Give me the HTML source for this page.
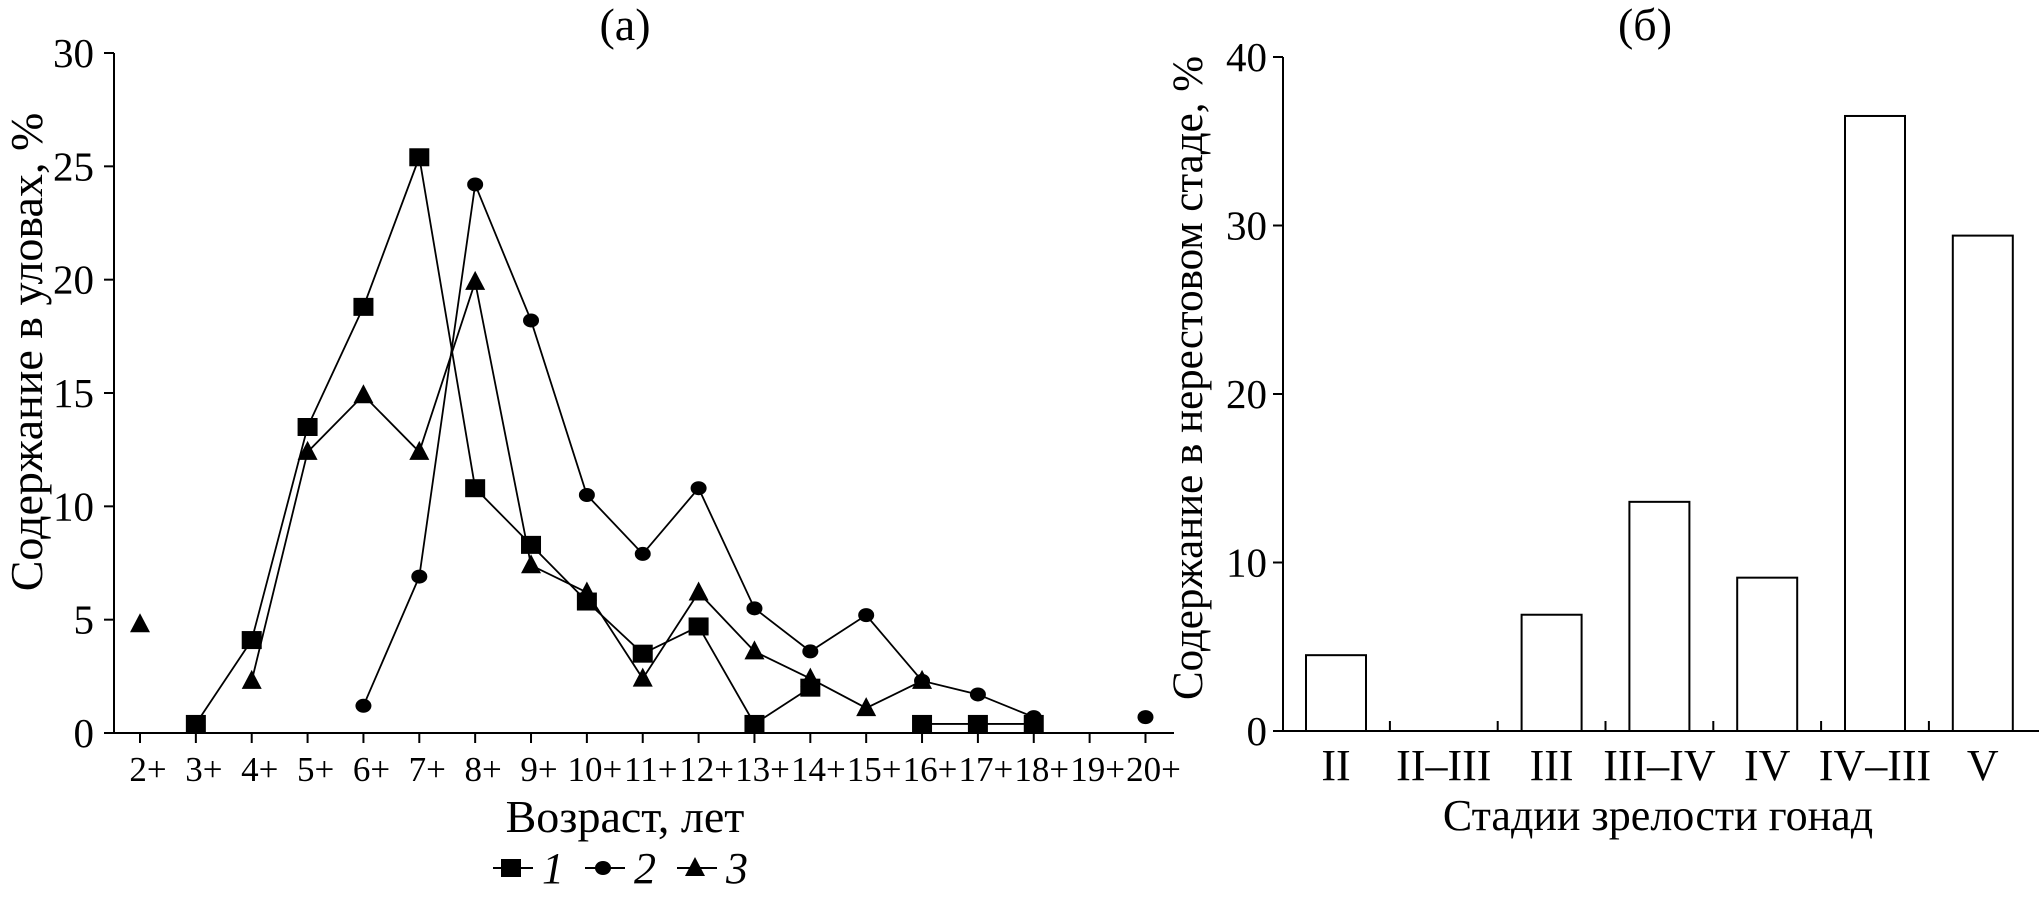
<!DOCTYPE html>
<html><head><meta charset="utf-8"><style>
html,body{margin:0;padding:0;background:#fff;}
svg{display:block;font-family:"Liberation Serif",serif;}
</style></head><body>
<svg id="c" width="2042" height="898" viewBox="0 0 2042 898"></svg>
<script>
const ageLabels=["2+","3+","4+","5+","6+","7+","8+","9+","10+","11+","12+","13+","14+","15+","16+","17+","18+","19+","20+"];
const series1=[null,0.4,4.1,13.5,18.8,25.4,10.8,8.3,5.8,3.5,4.7,0.4,2.0,null,0.4,0.4,0.4,null,null];
const series2=[null,null,null,null,1.2,6.9,24.2,18.2,10.5,7.9,10.8,5.5,3.6,5.2,2.3,1.7,0.7,null,0.7];
const series3=[4.8,null,2.3,12.4,14.9,12.4,19.9,7.4,6.2,2.4,6.2,3.6,2.4,1.1,2.3,null,null,null,null];
const yTicksA=[0,5,10,15,20,25,30];
const stages=["II","II–III","III","III–IV","IV","IV–III","V"];
const stageValues=[4.5,0,6.9,13.6,9.1,36.5,29.4];
const yTicksB=[0,10,20,30,40];

const svg=document.getElementById('c');
const NS="http://www.w3.org/2000/svg";
function mk(t,a,p){const e=document.createElementNS(NS,t);for(const k in a)e.setAttribute(k,a[k]);(p||svg).appendChild(e);return e;}
function txt(s,x,y,size,extra){const e=mk('text',Object.assign({x:x,y:y,'font-size':size,'text-anchor':'middle',fill:'#000'},extra||{}));e.textContent=s;return e;}

// ---- Chart A ----
const ax0=114, ax1=1174, ay0=733, ay1=53;
const xA=i=>140+i*55.86;
const yA=v=>ay0-(v/30)*(ay0-ay1);
const gA=mk('g',{});


let e=mk('line',{x1:ax0,y1:ay0,x2:ax1,y2:ay0,stroke:'#000','stroke-width':2},gA);

e=mk('line',{x1:ax0,y1:ay0,x2:ax0,y2:ay1,stroke:'#000','stroke-width':2},gA);

yTicksA.forEach(v=>{
  mk('line',{x1:ax0,y1:yA(v),x2:ax0-10,y2:yA(v),stroke:'#000','stroke-width':2},gA);
  const t=txt(String(v),ax0-20,yA(v)+14,41,{'text-anchor':'end'});
  
});
ageLabels.forEach((l,i)=>{
  mk('line',{x1:xA(i),y1:ay0,x2:xA(i),y2:ay0+10,stroke:'#000','stroke-width':2},gA);
  const t=txt(l,xA(i)+8,781,35);
  
});
function drawSeries(data,marker,name){
  const g=mk('g',{},gA);
  
  
  let seg=[];
  const flush=()=>{if(seg.length>1)mk('polyline',{points:seg.join(' '),fill:'none',stroke:'#000','stroke-width':1.8},g);seg=[];};
  data.forEach((v,i)=>{if(v===null){flush();return;}seg.push(xA(i)+','+yA(v));});
  flush();
  data.forEach((v,i)=>{
    if(v===null)return;
    const x=xA(i),y=yA(v);let m;
    if(marker==='square')m=mk('rect',{x:x-10,y:y-9,width:20,height:18,fill:'#000'},g);
    else if(marker==='circle')m=mk('ellipse',{cx:x,cy:y,rx:8,ry:7,fill:'#000'},g);
    else m=mk('polygon',{points:`${x},${y-11} ${x-10},${y+8} ${x+10},${y+8}`,fill:'#000'},g);
    
    
  });
}
drawSeries(series1,'square','series-1');
drawSeries(series2,'circle','series-2');
drawSeries(series3,'triangle','series-3');
e=txt('(а)',625,40,46);
e=txt('Возраст, лет',625,832,46);
e=txt('Содержание в уловах, %',0,0,46,{transform:'translate(42,352) rotate(-90)'});

// legend
const lg=mk('g',{});

[['square','1',493],['circle','2',585],['triangle','3',677]].forEach(([m,l,x])=>{
  const y=868;
  mk('line',{x1:x,y1:y,x2:x+40,y2:y,stroke:'#000','stroke-width':2},lg);
  const cx=x+18;
  if(m==='square')mk('rect',{x:cx-10,y:y-9,width:20,height:18,fill:'#000'},lg);
  else if(m==='circle')mk('ellipse',{cx:cx,cy:y,rx:8,ry:7,fill:'#000'},lg);
  else mk('polygon',{points:`${cx},${y-11} ${cx-10},${y+8} ${cx+10},${y+8}`,fill:'#000'},lg);
  const t=txt(l,x+60,y+15,44,{'font-style':'italic'});
  
});

// ---- Chart B ----
const bx0=1283, bx1=2039, by0=731, by1=57;
const xB=i=>1336+i*107.8;
const yB=v=>by0-(v/40)*(by0-by1);
const gB=mk('g',{});

stageValues.forEach((v,i)=>{
  if(v<=0)return;
  const r=mk('rect',{x:xB(i)-30,y:yB(v),width:60,height:by0-yB(v),fill:'#fff',stroke:'#000','stroke-width':2},gB);
  
});
e=mk('line',{x1:bx0,y1:by0,x2:bx1,y2:by0,stroke:'#000','stroke-width':2},gB);

e=mk('line',{x1:bx0,y1:by0,x2:bx0,y2:by1,stroke:'#000','stroke-width':2},gB);

yTicksB.forEach(v=>{
  mk('line',{x1:bx0,y1:yB(v),x2:bx0-10,y2:yB(v),stroke:'#000','stroke-width':2},gB);
  const t=txt(String(v),bx0-16,yB(v)+14,41,{'text-anchor':'end'});
  
});
stages.forEach((s,i)=>{
  if(i>0)mk('line',{x1:xB(i)-53.9,y1:by0,x2:xB(i)-53.9,y2:by0-10,stroke:'#000','stroke-width':2},gB);
  const t=txt(s,xB(i),780,44);
  
});
e=txt('(б)',1645,40,46);
e=txt('Стадии зрелости гонад',1658,830,44);
e=txt('Содержание в нерестовом стаде, %',0,0,43,{transform:'translate(1202,378) rotate(-90)'});

</script>
</body></html>
